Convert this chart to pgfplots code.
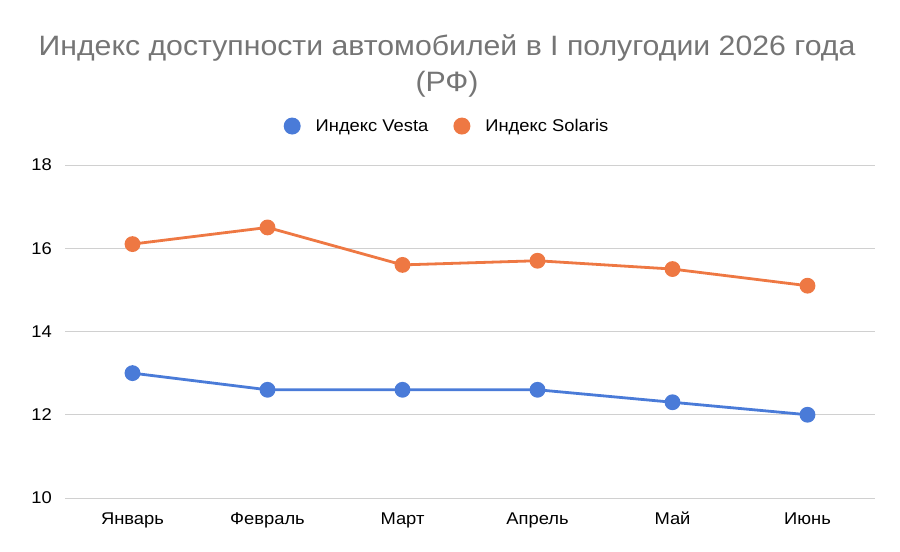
\documentclass[border=0pt]{standalone}
\usepackage{pgfplots}
\pgfplotsset{compat=1.18}
\usepackage{fontspec}
\setmainfont{Liberation Sans}[FakeStretch=1.08]
\definecolor{cblue}{HTML}{4A7BD8}
\definecolor{corange}{HTML}{EE7843}
\definecolor{ctitle}{HTML}{757575}
\definecolor{cgrid}{HTML}{D0D0D0}
\begin{document}
\begin{tikzpicture}
\useasboundingbox (0,0) rectangle (900bp,552bp);
\node[text=ctitle, font=\fontsize{28bp}{36bp}\selectfont, align=center, anchor=north] at (447bp,521bp)
  {Индекс доступности автомобилей в I полугодии 2026 года\\(РФ)};
\begin{axis}[
  at={(65bp,54bp)}, anchor=south west,
  scale only axis, width=810bp, height=333bp,
  xmin=-0.5, xmax=5.5, ymin=10, ymax=18,
  xtick={0,1,2,3,4,5},
  xticklabels={Январь,Февраль,Март,Апрель,Май,Июнь},
  ytick={10,12,14,16,18},
  axis line style={draw=none},
  tick style={draw=none},
  ymajorgrids, grid style={cgrid, line width=1bp},
  ticklabel style={font=\fontsize{17bp}{20bp}\selectfont},
  /pgf/number format/assume math mode=true,
  yticklabel style={inner sep=0pt, xshift=-13bp},
  xticklabel style={inner sep=0pt, text height=12bp, text depth=4bp, yshift=-14bp},
  legend columns=2,
  legend style={at={(0.4716,1.117)}, anchor=center, draw=none, fill=none,
    font=\fontsize{17bp}{20bp}\selectfont, column sep=13bp, inner sep=0pt,
    /tikz/every even column/.append style={column sep=23bp}},
  legend image code/.code={\fill[#1, draw=none] (2bp,0bp) circle (8.5bp);},
  legend cell align=left,
]
\addplot[cblue, line width=2.8bp, mark=*, mark size=6.5bp] coordinates {
  (0,13.0) (1,12.6) (2,12.6) (3,12.6) (4,12.3) (5,12.0)};
\addlegendentry{Индекс Vesta}
\addplot[corange, line width=2.8bp, mark=*, mark size=6.5bp] coordinates {
  (0,16.1) (1,16.5) (2,15.6) (3,15.7) (4,15.5) (5,15.1)};
\addlegendentry{Индекс Solaris}
\end{axis}
\end{tikzpicture}
\end{document}
